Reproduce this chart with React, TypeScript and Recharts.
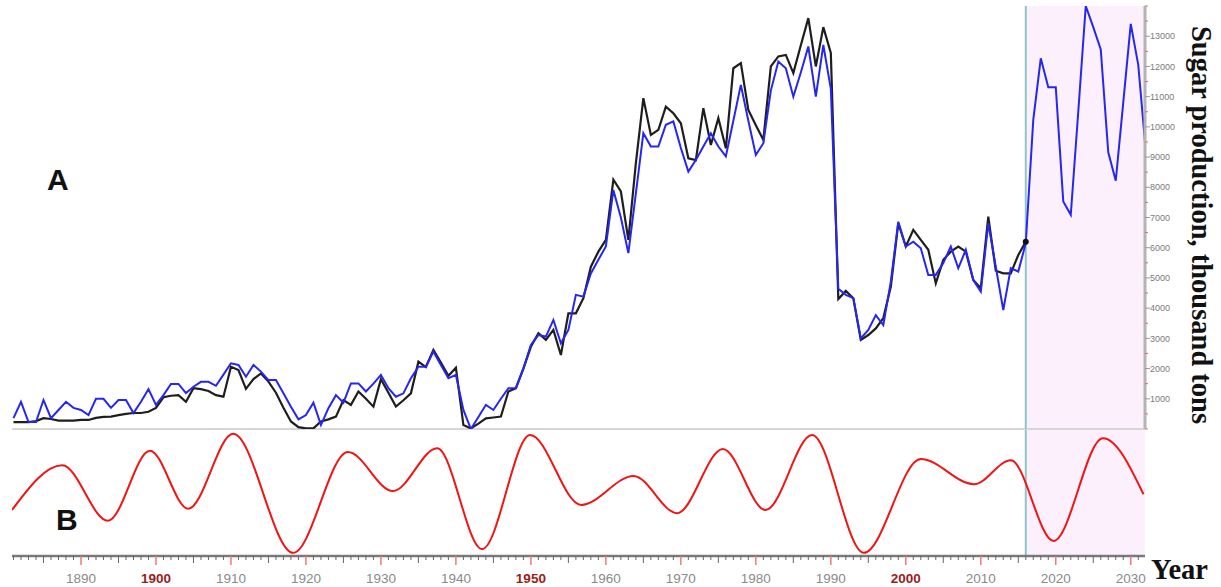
import React from 'react';
import { LineChart, Line, XAxis, YAxis, ReferenceArea, ReferenceLine } from 'recharts';

// ---- data ----
const FIRST_YEAR = 1881;
const FORECAST_START = 2016;

// actual sugar production, thousand tons, 1881..2016
const actualProduction = [
  230, 230, 230, 260, 360, 330, 280, 280, 280, 300,
  300, 370, 400, 410, 460, 500, 530, 530, 570, 700,
  1050, 1100, 1120, 900, 1350, 1320, 1260, 1120, 1070, 2060,
  1950, 1330, 1650, 1840, 1570, 1200, 700, 250, 60, 20,
  20, 250, 320, 410, 960, 800, 1240, 1000, 740, 1650,
  1200, 740, 950, 1180, 2230, 2050, 2620, 2200, 1760, 2030,
  130, 20, 180, 350, 380, 410, 1240, 1350, 2000, 2720,
  3170, 2950, 3280, 2450, 3830, 3830, 4330, 5370, 5870, 6260,
  8250, 7860, 6260, 8800, 10950, 9730, 9900, 10670, 10450, 10120,
  8960, 8900, 10620, 9400, 10290, 9290, 11940, 12110, 10560, 10050,
  9570, 12000, 12330, 12380, 11780, 12700, 13600, 12000, 13300, 12450,
  4300, 4570, 4330, 2950, 3110, 3330, 3670, 4710, 6810, 6040,
  6590, 6260, 5930, 4820, 5600, 5870, 6040, 5870, 4930, 4660,
  7030, 5240, 5150, 5150, 5760, 6200,
];

// model / forecast, thousand tons, 1881..2032
const modelProduction = [
  360, 900, 230, 230, 960, 360, 630, 900, 700, 630,
  460, 1000, 1000, 700, 960, 960, 530, 900, 1320, 800,
  1120, 1490, 1490, 1190, 1400, 1560, 1560, 1430, 1800, 2175,
  2120, 1730, 2120, 1900, 1620, 1620, 1180, 740, 320, 460,
  870, 130, 690, 1120, 870, 1510, 1510, 1240, 1500, 1790,
  1350, 1070, 1180, 1680, 2060, 2060, 2560, 2120, 1680, 1790,
  630, 0, 400, 800, 630, 1000, 1350, 1350, 2000, 2780,
  3110, 3060, 3610, 2840, 3280, 4440, 4380, 5150, 5600, 6040,
  7910, 7000, 5820, 7800, 9790, 9350, 9350, 10070, 10180, 9300,
  8520, 8900, 9350, 9790, 9350, 9020, 10200, 11390, 10200, 9070,
  9460, 11200, 12160, 11940, 11000, 11800, 12660, 11000, 12710, 11260,
  4640, 4440, 4330, 3000, 3280, 3770, 3440, 4880, 6860, 6040,
  6200, 5980, 5100, 5100, 5490, 6040, 5320, 5930, 4930, 4550,
  6810, 5370, 3940, 5320, 5210, 6150, 10230, 12270, 11310, 11310,
  7530, 7090, 10500, 14000, 13300, 12560, 9160, 8220, 10800, 13410,
  12050, 9220,
];

// cycle curve B: turning points (year, relative amplitude)
const cycleYears = [
  1880.8, 1887.5, 1893.6, 1899.2, 1904.3, 1910.3, 1918.3, 1925.6, 1931.6,
  1937.5, 1943.5, 1949.9, 1956.7, 1963.7, 1969.5, 1975.6, 1981.3, 1987.5, 1994.4,
  2002.0, 2009.1, 2014.0, 2019.7, 2026.3, 2031.7,
];
const cycleValues = [
  -0.27, 0.44, -0.44, 0.67, -0.25, 0.94, -0.95, 0.65, 0.03,
  0.71, -0.89, 0.92, -0.19, 0.27, -0.32, 0.7, -0.27, 0.92, -0.95,
  0.54, 0.14, 0.52, -0.76, 0.87, -0.02,
];

const decadeLabels = [1890, 1900, 1910, 1920, 1930, 1940, 1950, 1960, 1970, 1980, 1990, 2000, 2010, 2020, 2030];
const boldLabels = [1900, 1950, 2000];
const productionLabels = [1000, 2000, 3000, 4000, 5000, 6000, 7000, 8000, 9000, 10000, 11000, 12000, 13000];

// ---- tables ----
const X_DOMAIN: [number, number] = [1880.8, 2031.9];

const topTable = modelProduction.map((m, i) => ({
  year: FIRST_YEAR + i,
  model: m,
  actual: i < actualProduction.length ? actualProduction[i] : null,
}));

const cycleTable = cycleYears.map((y, i) => ({ year: y, v: cycleValues[i] }));

const yearTicks: number[] = [];
for (let y = 1881; y <= 2031; y++) yearTicks.push(y);

const yTicks: number[] = [];
for (let v = 0; v <= 14000; v += 500) yTicks.push(v);

// ---- custom ticks ----
const XTick = (props: any) => {
  const { x, y, payload } = props;
  const yr = payload.value;
  const isDec = decadeLabels.includes(yr);
  const is5 = yr % 5 === 0;
  const len = isDec ? 9 : is5 ? 7 : 4;
  const bold = boldLabels.includes(yr);
  return (
    <g>
      <line x1={x} x2={x} y1={y} y2={y + len} stroke={isDec ? '#f07878' : '#666'} strokeWidth={isDec ? 1.5 : 1} />
      {isDec && (
        <text
          x={x}
          y={y + 27}
          textAnchor="middle"
          fontFamily="'Liberation Sans', Arial, sans-serif"
          fontSize={13.5}
          fontWeight={bold ? 700 : 400}
          fill={bold ? '#9a1c1c' : '#8a8a8a'}
        >
          {yr}
        </text>
      )}
    </g>
  );
};

const YTick = (props: any) => {
  const { x, y, payload } = props;
  const v = payload.value;
  const labeled = productionLabels.includes(v);
  if (labeled) {
    return (
      <g>
        <line x1={x} x2={x + 5} y1={y} y2={y} stroke="#999" strokeWidth={1} />
        <text
          x={x + 5}
          y={y}
          dy="0.35em"
          textAnchor="start"
          fontFamily="'Liberation Sans', Arial, sans-serif"
          fontSize={9}
          fill="#7a7a7a"
        >
          {v}
        </text>
      </g>
    );
  }
  return <line x1={x} x2={x + 3} y1={y} y2={y} stroke="#e06a6a" strokeWidth={1} />;
};

const LastDot = (props: any) => {
  const { cx, cy, index } = props;
  if (index !== actualProduction.length - 1 || cx == null) return <g key={`d${index}`} />;
  return <circle key={`d${index}`} cx={cx} cy={cy} r={3} fill="#111" />;
};

export default function App() {
  return (
    <div style={{ position: 'absolute', left: 0, top: 0, width: 1221, height: 587, background: '#fff', overflow: 'hidden' }}>
      <div style={{ position: 'absolute', left: 0, top: 0 }}>
        <LineChart width={1221} height={431} data={topTable} margin={{ top: 6, right: 0, bottom: 2, left: 12 }}>
          <XAxis type="number" dataKey="year" domain={X_DOMAIN} hide allowDataOverflow />
          <YAxis
            orientation="right"
            domain={[0, 14000]}
            ticks={yTicks}
            interval={0}
            width={76}
            axisLine={{ stroke: '#b4b4b4', strokeWidth: 3 }}
            tickLine={false}
            tickSize={0}
            tickMargin={0}
            tick={(p: any) => <YTick {...p} />}
            allowDataOverflow
          />
          <ReferenceArea x1={FORECAST_START} x2={X_DOMAIN[1]} y1={0} y2={14000} fill="#fcf0fc" fillOpacity={1} stroke="none" />
          <ReferenceLine y={0} stroke="#d6d6d6" strokeWidth={2} />
          <ReferenceLine x={FORECAST_START} stroke="#8cc6c6" strokeWidth={2} />
          <Line
            type="linear"
            dataKey="actual"
            stroke="#1e1e1e"
            strokeWidth={2.2}
            dot={(p: any) => <LastDot {...p} />}
            activeDot={false}
            isAnimationActive={false}
            connectNulls={false}
          />
          <Line
            type="linear"
            dataKey="model"
            stroke="#2626f2"
            strokeWidth={2}
            dot={false}
            activeDot={false}
            isAnimationActive={false}
          />
        </LineChart>
      </div>
      <div style={{ position: 'absolute', left: 0, top: 430 }}>
        <LineChart width={1221} height={157} data={cycleTable} margin={{ top: 0, right: 76, bottom: 0, left: 12 }}>
          <XAxis
            type="number"
            dataKey="year"
            domain={X_DOMAIN}
            ticks={yearTicks}
            interval={0}
            height={31}
            axisLine={{ stroke: '#7a7a7a', strokeWidth: 2.5 }}
            tickLine={false}
            tickSize={0}
            tickMargin={0}
            tick={(p: any) => <XTick {...p} />}
            allowDataOverflow
          />
          <YAxis hide domain={[-1, 1]} allowDataOverflow />
          <ReferenceArea x1={FORECAST_START} x2={X_DOMAIN[1]} y1={-1} y2={1} fill="#fcf0fc" fillOpacity={1} stroke="none" />
          <ReferenceLine x={FORECAST_START} stroke="#8cc6c6" strokeWidth={2} />
          <Line
            type="monotone"
            dataKey="v"
            stroke="#f01414"
            strokeWidth={2}
            dot={false}
            activeDot={false}
            isAnimationActive={false}
          />
        </LineChart>
      </div>
      <svg width={1221} height={587} style={{ position: 'absolute', left: 0, top: 0, pointerEvents: 'none' }}>
        <text x={47} y={190} fontFamily="'Liberation Sans', Arial, sans-serif" fontWeight={700} fontSize={30} fill="#111">A</text>
        <text x={56} y={530} fontFamily="'Liberation Sans', Arial, sans-serif" fontWeight={700} fontSize={30} fill="#111">B</text>
        <text x={1151} y={579} fontFamily="'Liberation Serif', 'Times New Roman', serif" fontWeight={700} fontSize={28.5} fill="#111">Year</text>
        <text
          transform="translate(1192, 225) rotate(90)"
          textAnchor="middle"
          fontFamily="'Liberation Serif', 'Times New Roman', serif"
          fontWeight={700}
          fontSize={28.5}
          fill="#111"
        >
          Sugar production, thousand tons
        </text>
      </svg>
    </div>
  );
}
